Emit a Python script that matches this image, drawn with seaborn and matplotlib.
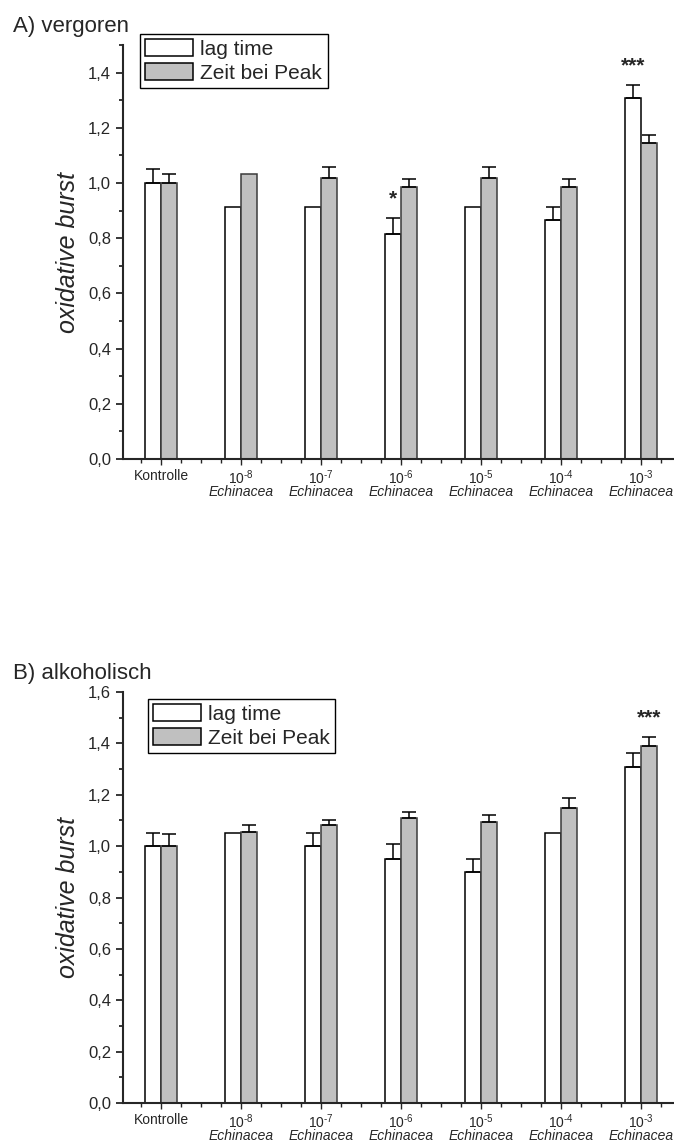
import numpy as np
import pandas as pd
import matplotlib
matplotlib.use("Agg")
import matplotlib.pyplot as plt
from matplotlib.ticker import MultipleLocator, FuncFormatter
import seaborn as sns

# ---------------- data ----------------
categories = ["Kontrolle", "1e-8", "1e-7", "1e-6", "1e-5", "1e-4", "1e-3"]
tick_top = ["Kontrolle", "10$^{\u20108}$", "10$^{\u20107}$", "10$^{\u20106}$",
            "10$^{\u20105}$", "10$^{\u20104}$", "10$^{\u20103}$"]
tick_bottom = ["", "Echinacea", "Echinacea", "Echinacea", "Echinacea", "Echinacea", "Echinacea"]
series_names = ["lag time", "Zeit bei Peak"]

# A) vergoren
lag_A = [1.000, 0.913, 0.913, 0.816, 0.913, 0.865, 1.307]
lag_A_err = [0.051, 0.0, 0.0, 0.057, 0.0, 0.048, 0.049]
peak_A = [1.000, 1.033, 1.017, 0.984, 1.017, 0.984, 1.144]
peak_A_err = [0.033, 0.0, 0.041, 0.030, 0.041, 0.030, 0.029]
stars_A = [(3, 0, "*"), (6, 0, "***")]   # (category index, series index, text)

# B) alkoholisch
lag_B = [1.000, 1.051, 1.000, 0.950, 0.898, 1.051, 1.309]
lag_B_err = [0.053, 0.0, 0.053, 0.059, 0.052, 0.0, 0.053]
peak_B = [1.000, 1.055, 1.082, 1.108, 1.095, 1.148, 1.389]
peak_B_err = [0.046, 0.027, 0.020, 0.026, 0.027, 0.040, 0.034]
stars_B = [(6, 1, "***")]

# ---------------- style ----------------
sns.set_style("ticks")
plt.rcParams["font.family"] = ["Liberation Sans", "DejaVu Sans"]
plt.rcParams["mathtext.fontset"] = "custom"
plt.rcParams["mathtext.rm"] = "Liberation Sans"
plt.rcParams["mathtext.it"] = "Liberation Sans:italic"
plt.rcParams["mathtext.default"] = "regular"

W, H = 674, 1148
fig = plt.figure(figsize=(W / 100, H / 100), dpi=100)
axA = fig.add_axes([123 / W, (H - 459) / H, 551 / W, 414 / H])
axB = fig.add_axes([123 / W, (H - 1103) / H, 551 / W, 411 / H])

palette = {"lag time": "white", "Zeit bei Peak": "#c0c0c0"}


def panel(ax, lag, lag_err, peak, peak_err, ymax, stars, title, title_y, leg_anchor):
    df = pd.DataFrame({
        "cat": categories * 2,
        "series": [series_names[0]] * len(categories) + [series_names[1]] * len(categories),
        "val": lag + peak,
    })
    sns.barplot(data=df, x="cat", y="val", hue="series", order=categories,
                hue_order=series_names, palette=palette, width=0.4,
                errorbar=None, edgecolor="black", linewidth=1.1,
                saturation=1, ax=ax)
    edgecols = ["black", "#3a3a3a"]
    errs = [lag_err, peak_err]
    centers = {}
    for si, cont in enumerate(ax.containers[:2]):
        for ci, p in enumerate(cont.patches):
            p.set_edgecolor(edgecols[si])
            cx = p.get_x() + p.get_width() / 2
            centers[(ci, si)] = (cx, p.get_height())
        xs = [centers[(ci, si)][0] for ci in range(len(categories)) if errs[si][ci] > 0]
        ys = [centers[(ci, si)][1] for ci in range(len(categories)) if errs[si][ci] > 0]
        es = [errs[si][ci] for ci in range(len(categories)) if errs[si][ci] > 0]
        ax.errorbar(xs, ys, yerr=[np.zeros(len(es)), es], fmt="none",
                    ecolor="black", elinewidth=1.1, capsize=5, capthick=1.1, zorder=1)
    for ci, si, txt in stars:
        cx, h = centers[(ci, si)]
        top = h + errs[si][ci]
        ax.annotate(txt, xy=(cx, top), xytext=(0, 7), textcoords="offset points",
                    ha="center", va="bottom", fontsize=15, fontweight="bold")

    ax.set_xlim(-0.475, 6.41)
    ax.set_ylim(0, ymax)
    ax.set_xlabel("")
    ax.set_ylabel("oxidative burst", fontsize=18, style="italic", labelpad=6)
    ax.set_xticks(range(len(categories)))
    ax.set_xticklabels(tick_top, fontsize=10)
    ax.xaxis.set_minor_locator(MultipleLocator(0.25))
    ax.yaxis.set_major_locator(MultipleLocator(0.2))
    ax.yaxis.set_minor_locator(MultipleLocator(0.1))
    ax.yaxis.set_major_formatter(FuncFormatter(lambda v, p: f"{v:.1f}".replace(".", ",")))
    ax.tick_params(axis="y", which="major", labelsize=12, length=5, width=1.3, direction="out")
    ax.tick_params(axis="y", which="minor", length=3, width=1.3, direction="out")
    ax.tick_params(axis="x", which="major", length=4, width=1.0, direction="out", pad=3)
    ax.tick_params(axis="x", which="minor", length=3, width=1.0, direction="out")
    for s in ["top", "right"]:
        ax.spines[s].set_visible(False)
    for s in ["left", "bottom"]:
        ax.spines[s].set_linewidth(1.5)
    for i, t in enumerate(tick_bottom):
        if t:
            ax.annotate(t, xy=(i, 0), xycoords=("data", "axes fraction"),
                        xytext=(0, -24), textcoords="offset points",
                        ha="center", va="center", fontsize=10, style="italic")
    handles, labels = ax.get_legend_handles_labels()
    if ax.get_legend() is not None:
        ax.get_legend().remove()
    leg = ax.legend(handles, labels, loc="upper left", bbox_to_anchor=leg_anchor,
                    borderaxespad=0, frameon=True, fancybox=False, fontsize=15,
                    handlelength=2.3, handleheight=0.9, handletextpad=0.35,
                    labelspacing=0.2, borderpad=0.25)
    leg.get_frame().set_edgecolor("black")
    leg.get_frame().set_linewidth(1.0)
    leg.get_frame().set_alpha(1)
    ax.text(-0.2, title_y, title, transform=ax.transAxes, fontsize=16,
            ha="left", va="bottom")


panel(axA, lag_A, lag_A_err, peak_A, peak_A_err, 1.5, stars_A, "A) vergoren", 1.02, (0.031, 1.027))
panel(axB, lag_B, lag_B_err, peak_B, peak_B_err, 1.6, stars_B, "B) alkoholisch", 1.02, (0.045, 0.983))

fig.savefig("out.png", dpi=100)
